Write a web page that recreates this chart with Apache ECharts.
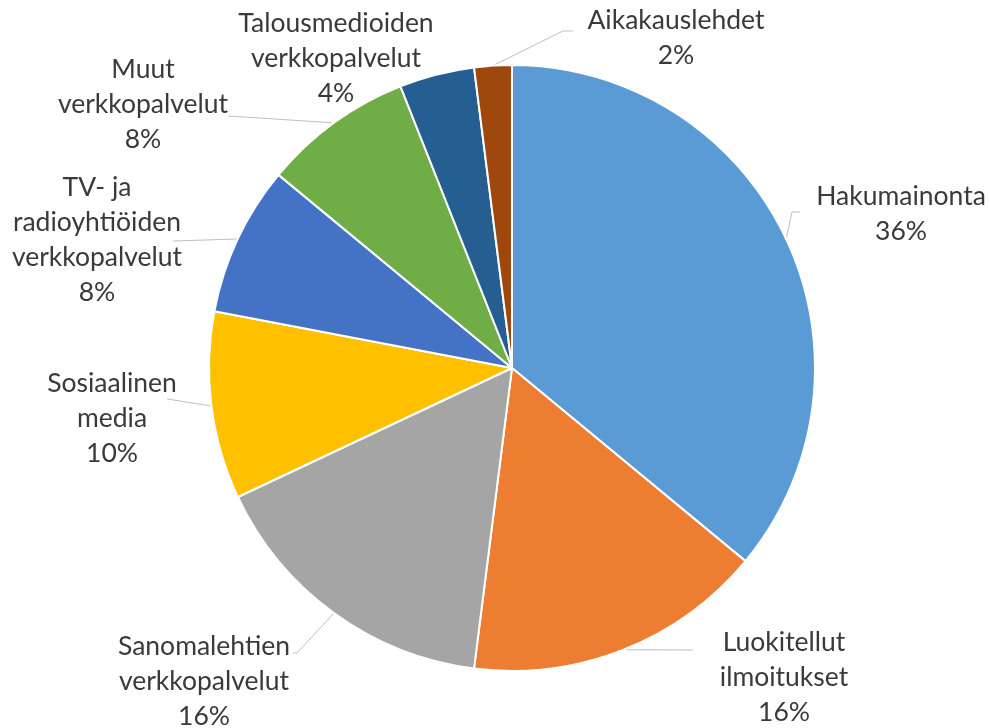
<!DOCTYPE html>
<html>
<head>
<meta charset="utf-8">
<script src="https://cdn.jsdelivr.net/npm/echarts@6/dist/echarts.min.js"></script>
<style>
  html, body { margin: 0; padding: 0; background: #fff; }
  #chart { width: 990px; height: 728px; }
</style>
</head>
<body>
<div id="chart"></div>
<script>
// 数据
var categories = [
    'Hakumainonta',
    'Luokitellut\nilmoitukset',
    'Sanomalehtien\nverkkopalvelut',
    'Sosiaalinen\nmedia',
    'TV- ja\nradioyhtiöiden\nverkkopalvelut',
    'Muut\nverkkopalvelut',
    'Talousmedioiden\nverkkopalvelut',
    'Aikakauslehdet'
];
var values = [36, 16, 16, 10, 8, 8, 4, 2];
var colors = ['#5B9BD5', '#ED7D31', '#A5A5A5', '#FFC000', '#4472C4', '#70AD47', '#255E91', '#9E480E'];

// label placement, relative to the pie centre (px)
var labelPos = [[389, -154], [272, 309], [-308, 313], [-400, 50], [-415, -128], [-369, -264], [-176, -310], [164, -330]];
// leader line bend + end, relative to the pie centre (null = no line)
var lineEnds = [
    [[280, -156], [288, -156]],
    [[181, 282], [181, 282]],
    [[-215, 285], [-219, 285]],
    [[-345, 31], [-345, 31]],
    [[-339, -127], [-339, -127]],
    [[-284, -252], [-284, -252]],
    null,
    [[51, -337], [61, -337]]
];

var cx = 512, cy = 368, R = 303;
var total = 0;
for (var i = 0; i < values.length; i++) total += values[i];

function midAngle(idx) {
    var before = 0;
    for (var k = 0; k < idx; k++) before += values[k];
    return (before + values[idx] / 2) / total * Math.PI * 2;
}

var pieData = [];
for (var i = 0; i < values.length; i++) {
    pieData.push({
        name: categories[i],
        value: values[i],
        itemStyle: { color: colors[i] },
        labelLine: { show: lineEnds[i] !== null }
    });
}

var myChart = echarts.init(document.getElementById('chart'));
var option = {
    animation: false,
    series: [{
        type: 'pie',
        center: [cx, cy],
        radius: R,
        startAngle: 90,
        clockwise: true,
        avoidLabelOverlap: false,
        percentPrecision: 0,
        itemStyle: {
            borderColor: '#ffffff',
            borderWidth: 2
        },
        label: {
            show: true,
            position: 'outside',
            formatter: '{b}\n{d}%',
            fontFamily: 'Lato',
            fontSize: 26.5,
            lineHeight: 35,
            color: '#3a3a3a',
            align: 'center'
        },
        labelLine: {
            show: true,
            lineStyle: { color: '#bfbfbf', width: 1 }
        },
        labelLayout: function (params) {
            var idx = params.dataIndex;
            var res = {
                x: cx + labelPos[idx][0],
                y: cy + labelPos[idx][1],
                align: 'center',
                verticalAlign: 'middle'
            };
            var le = lineEnds[idx];
            if (le) {
                var a = midAngle(idx);
                res.labelLinePoints = [
                    [cx + R * Math.sin(a), cy - R * Math.cos(a)],
                    [cx + le[0][0], cy + le[0][1]],
                    [cx + le[1][0], cy + le[1][1]]
                ];
            }
            return res;
        },
        data: pieData
    }]
};
myChart.setOption(option);
</script>
</body>
</html>
